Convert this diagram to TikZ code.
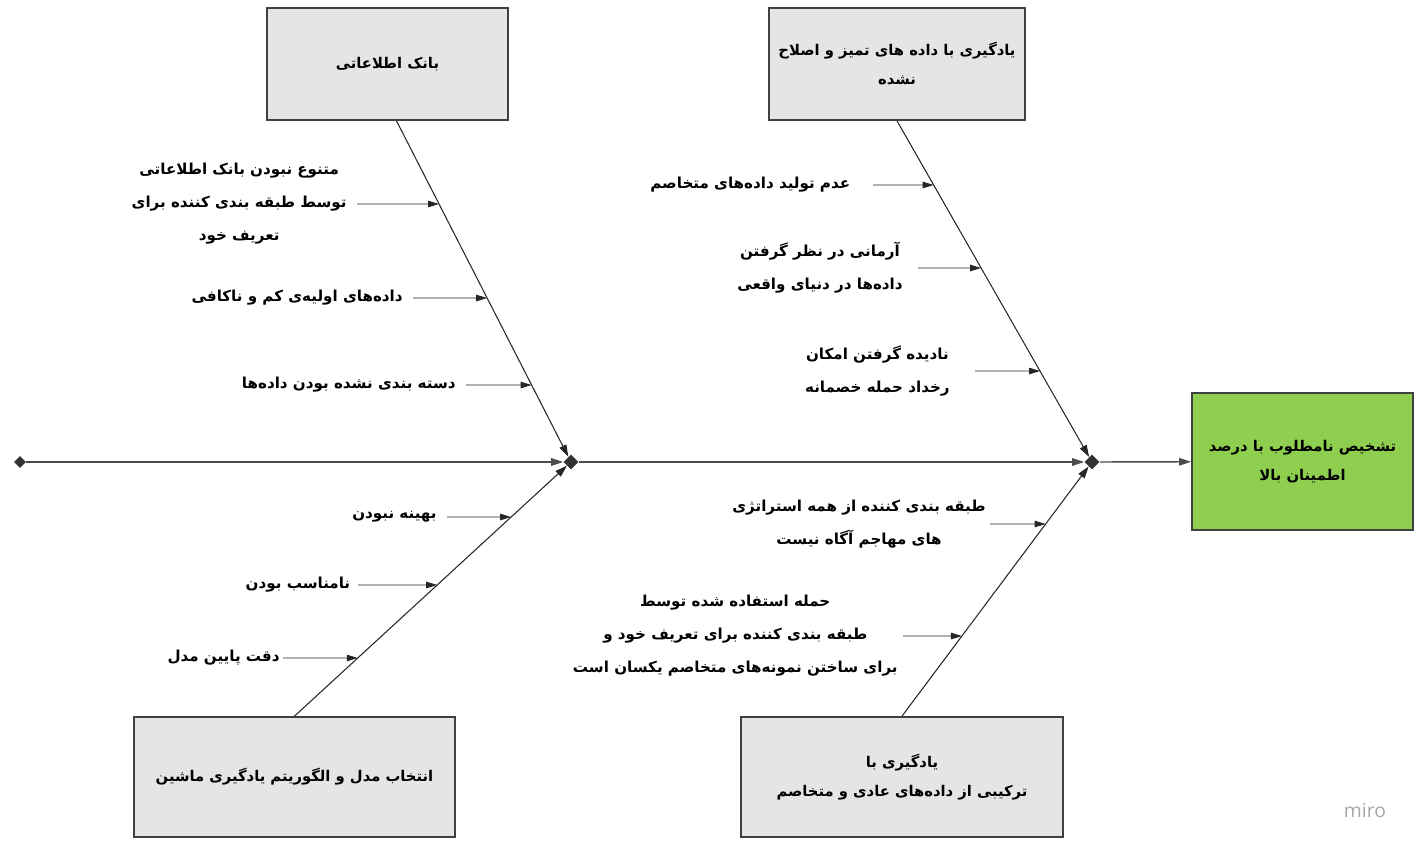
\documentclass[tikz,border=0pt]{standalone}
\usepackage{fontspec}
\newfontfamily\farsi[Script=Arabic]{DejaVu Sans}
\newfontfamily\logofont{Open Sans}
\usetikzlibrary{arrows.meta,shapes.geometric}
\TeXXeTstate=1
\newcommand{\fa}[1]{\beginR #1\endR}
\definecolor{leaf}{HTML}{8FCF50}
\begin{document}
\begin{tikzpicture}[x=0.02cm, y=-0.02cm]
                \tikzset{cause/.style={draw=black!75, fill=black!10, line width=1pt, align=center,
                    font=\farsi\bfseries\fontsize{8.4}{16.5}\selectfont}}
                \tikzset{effect/.style={cause, fill=leaf, minimum width=4.42cm, minimum height=2.74cm}}
                \tikzset{joint/.style={diamond, fill=black!80, inner sep=0pt, minimum size=0.3cm}}
                \tikzset{reason/.style={anchor=east, align=center, inner xsep=0.2cm,
                    font=\farsi\bfseries\fontsize{8.6}{18.8}\selectfont}}
                \tikzset{spine/.style={black!70, line width=0.8pt, -{Triangle[length=0.24cm, width=0.15cm]}}}
                \tikzset{bone/.style={black!85, line width=0.6pt, -{Triangle[length=0.24cm, width=0.15cm]}}}
                \tikzset{twig/.style={black!85, line width=0.5pt, -{Triangle[length=0.22cm, width=0.13cm]}}}
                \useasboundingbox (0, 0) rectangle (1421, 851);
                \node[cause, minimum width=4.82cm, minimum height=2.24cm] (bank) at (387.5, 64) {\fa{بانک اطلاعاتی}};
                \node[cause, minimum width=5.12cm, minimum height=2.24cm] (clean) at (897, 64)
                    {\fa{یادگیری با داده های تمیز و اصلاح}\\\fa{نشده}};
                \node[cause, minimum width=6.42cm, minimum height=2.4cm] (model) at (294.5, 777)
                    {\fa{انتخاب مدل و الگوریتم یادگیری ماشین}};
                \node[cause, minimum width=6.44cm, minimum height=2.4cm] (mixed) at (902, 777)
                    {\fa{یادگیری با}\\\fa{ترکیبی از داده‌های عادی و متخاصم}};
                \node[effect] (goal) at (1302.5, 461.5) {\fa{تشخیص نامطلوب با درصد}\\\fa{اطمینان بالا}};
                \node[joint, minimum size=0.24cm] (tail) at (20, 462) {};
                \node[joint] (jleft) at (571, 462) {};
                \node[joint] (jright) at (1092, 462) {};
                \coordinate (bankfoot) at ([xshift=0.18cm]bank.south);
                \draw[spine] (tail) -- (jleft);
                \draw[spine] (jleft) -- (jright);
                \draw[spine] (jright) -- (goal);
                \draw[bone] (bankfoot) -- (jleft);
                \draw[bone] (model.north) -- (jleft);
                \draw[bone] (clean.south) -- (jright);
                \draw[bone] (mixed.north) -- (jright);
                \node[reason] (bankA) at (357, 204) {\fa{متنوع نبودن بانک اطلاعاتی}\\\fa{توسط طبقه بندی کننده برای}\\\fa{تعریف خود}};
                \node[reason] (bankB) at (413, 298) {\fa{داده‌های اولیه‌ی کم و ناکافی}};
                \node[reason] (bankC) at (466, 385) {\fa{دسته بندی نشده بودن داده‌ها}};
                \node[reason] (modelA) at (447, 517) {\fa{بهینه نبودن}};
                \node[reason, inner xsep=0.15cm] (modelB) at (358, 585) {\fa{نامناسب بودن}};
                \node[reason, inner xsep=0.06cm] (modelC) at (283, 658) {\fa{دقت پایین مدل}};
                \node[reason, inner xsep=0.45cm] (cleanA) at (873, 185) {\fa{عدم تولید داده‌های متخاصم}};
                \node[reason, inner xsep=0.3cm] (cleanB) at (918, 268) {\fa{آرمانی در نظر گرفتن}\\\fa{داده‌ها در دنیای واقعی}};
                \node[reason, inner xsep=0.5cm] (cleanC) at (975, 371) {\fa{نادیده گرفتن امکان}\\\fa{رخداد حمله خصمانه}};
                \node[reason, inner xsep=0.08cm] (mixedA) at (990, 524) {\fa{طبقه بندی کننده از همه استراتژی}\\\fa{های مهاجم آگاه نیست}};
                \node[reason, inner xsep=0.1cm] (mixedB) at (903, 636) {\fa{حمله استفاده شده توسط}\\\fa{طبقه بندی کننده برای تعریف خود و}\\\fa{برای ساختن نمونه‌های متخاصم یکسان است}};
                \draw[twig] (bankA.east) -- (intersection of bankA.west--bankA.east and bankfoot--jleft);
                \draw[twig] (bankB.east) -- (intersection of bankB.west--bankB.east and bankfoot--jleft);
                \draw[twig] (bankC.east) -- (intersection of bankC.west--bankC.east and bankfoot--jleft);
                \draw[twig] (modelA.east) -- (intersection of modelA.west--modelA.east and model.north--jleft);
                \draw[twig] (modelB.east) -- (intersection of modelB.west--modelB.east and model.north--jleft);
                \draw[twig] (modelC.east) -- (intersection of modelC.west--modelC.east and model.north--jleft);
                \draw[twig] (cleanA.east) -- (intersection of cleanA.west--cleanA.east and clean.south--jright);
                \draw[twig] (cleanB.east) -- (intersection of cleanB.west--cleanB.east and clean.south--jright);
                \draw[twig] (cleanC.east) -- (intersection of cleanC.west--cleanC.east and clean.south--jright);
                \draw[twig] (mixedA.east) -- (intersection of mixedA.west--mixedA.east and mixed.north--jright);
                \draw[twig] (mixedB.east) -- (intersection of mixedB.west--mixedB.east and mixed.north--jright);
                \node[black!35, font=\logofont\fontsize{11}{11}\selectfont] (brand) at (1365, 810) {miro};
            \end{tikzpicture}
\end{document}
